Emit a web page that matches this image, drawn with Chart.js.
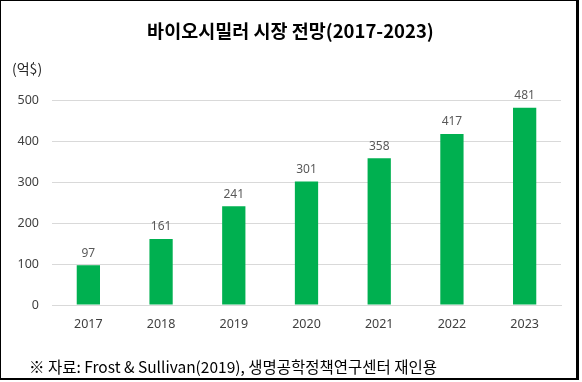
<!DOCTYPE html>
<html>
<head>
<meta charset="utf-8">
<script src="https://cdn.jsdelivr.net/npm/chart.js@4/dist/chart.umd.min.js"></script>
<style>
  html, body { margin: 0; padding: 0; background: #fff; }
  #wrap { position: relative; width: 582px; height: 382px; overflow: hidden; }
  #frame { position: absolute; left: 0; top: 0; width: 579px; height: 380px; box-sizing: border-box;
           border-style: solid; border-color: #000; border-width: 1px 3px 2px 1px; pointer-events: none; }
  canvas { position: absolute; left: 0; top: 0; }
  .txt { position: absolute; font-family: "Noto Sans CJK KR", "Noto Sans", sans-serif; color: #000; white-space: nowrap; line-height: 1; }
  #title { left: 0; width: 581px; text-align: center; top: 21px; font-size: 18.5px; font-weight: bold; }
  #unit { left: 12px; top: 61px; font-size: 14px; color: #262626; }
  #note { left: 29px; top: 359px; font-size: 15.5px; color: #000; }
</style>
</head>
<body>
<div id="wrap">
  <canvas id="c" width="582" height="382"></canvas>
  <div class="txt" id="title"></div>
  <div class="txt" id="unit">(억$)</div>
  <div class="txt" id="note">※ 자료: Frost &amp; Sullivan(2019), 생명공학정책연구센터 재인용</div>
  <div id="frame"></div>
</div>
<script>
const titleText = "바이오시밀러 시장 전망(2017-2023)";
const years = ["2017", "2018", "2019", "2020", "2021", "2022", "2023"];
const marketSize = [97, 161, 241, 301, 358, 417, 481];
const yTicks = [0, 100, 200, 300, 400, 500];

document.getElementById('title').textContent = titleText;

const valueLabels = {
  id: 'valueLabels',
  afterDatasetsDraw(chart) {
    const ctx = chart.ctx;
    const meta = chart.getDatasetMeta(0);
    ctx.save();
    ctx.font = '12px "Noto Sans", sans-serif';
    ctx.fillStyle = '#595959';
    ctx.textAlign = 'center';
    ctx.textBaseline = 'bottom';
    meta.data.forEach((bar, i) => {
      ctx.fillText(String(chart.data.datasets[0].data[i]), bar.x, bar.y - 6);
    });
    ctx.restore();
  }
};

new Chart(document.getElementById('c'), {
  type: 'bar',
  data: {
    labels: years,
    datasets: [{
      data: marketSize,
      backgroundColor: '#00B050',
      borderWidth: 0,
      barPercentage: 0.32,
      categoryPercentage: 1.0
    }]
  },
  options: {
    responsive: false,
    animation: false,
    devicePixelRatio: 1,
    layout: { padding: { left: 0, right: 21, top: 100, bottom: 47 } },
    plugins: {
      legend: { display: false },
      tooltip: { enabled: false },
      title: { display: false }
    },
    scales: {
      x: {
        grid: { display: false, drawTicks: false },
        border: { display: true, color: '#D9D9D9', width: 1 },
        ticks: { color: '#404040', font: { family: '"Noto Sans", sans-serif', size: 12.5 }, padding: 12 },
        afterFit(scale) { scale.height = 30; }
      },
      y: {
        min: 0, max: 500,
        afterBuildTicks(scale) { scale.ticks = yTicks.map(v => ({ value: v })); },
        grid: { color: '#D9D9D9', drawTicks: false, lineWidth: 1 },
        border: { display: false },
        ticks: { color: '#404040', font: { family: '"Noto Sans", sans-serif', size: 12.5 }, padding: 13 },
        afterFit(scale) { scale.width = 52; }
      }
    }
  },
  plugins: [valueLabels]
});
</script>
</body>
</html>
